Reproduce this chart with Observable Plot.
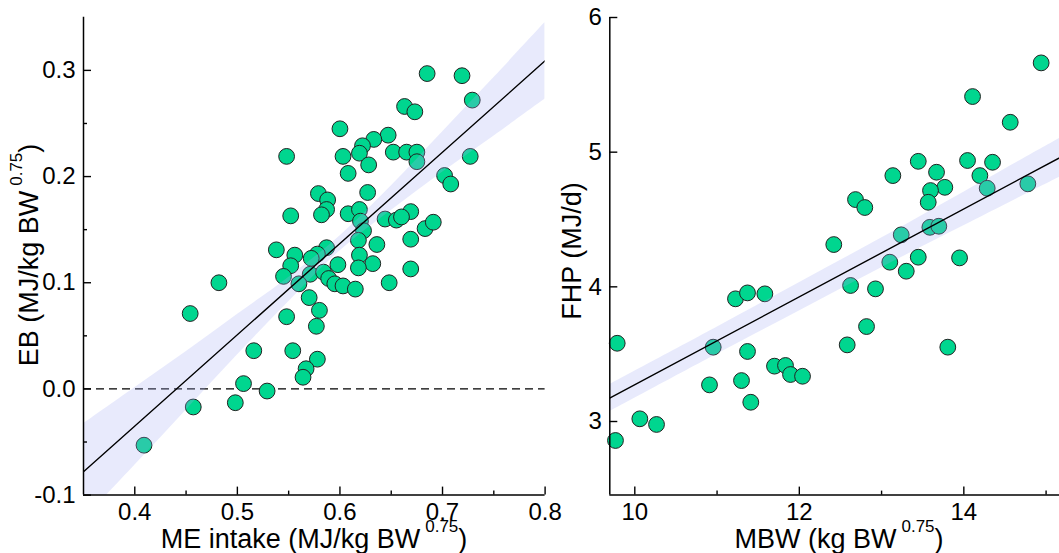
<!DOCTYPE html>
<html><head><meta charset="utf-8">
<script src="https://cdn.jsdelivr.net/npm/d3@7"></script>
<script src="https://cdn.jsdelivr.net/npm/@observablehq/plot@0.6"></script>
<style>
body{margin:0;background:#fff;}
#wrap{position:relative;width:1059px;height:553px;overflow:hidden;font-family:"Liberation Sans",Arial,sans-serif;}
#wrap svg{position:absolute;top:0;}
</style></head><body><div id="wrap"></div>
<script>
// ---- Left panel: ME intake vs EB ----
const meIntake = [0.685,0.719,0.729,0.663,0.673,0.600,0.647,0.633,0.622,0.619,0.548,0.603,0.652,0.665,0.675,0.675,0.628,0.727,0.608,0.702,0.708,0.627,0.579,0.588,0.587,0.582,0.552,0.608,0.619,0.620,0.623,0.618,0.644,0.655,0.669,0.683,0.691,0.669,0.636,0.538,0.587,0.556,0.578,0.572,0.619,0.632,0.552,0.598,0.618,0.669,0.545,0.571,0.584,0.589,0.560,0.595,0.603,0.615,0.648,0.482,0.570,0.580,0.454,0.548,0.577,0.516,0.554,0.578,0.567,0.564,0.506,0.529,0.498,0.457,0.409,0.660];
const eb = [0.297,0.295,0.272,0.266,0.261,0.245,0.239,0.235,0.229,0.222,0.219,0.219,0.223,0.223,0.223,0.214,0.211,0.219,0.203,0.201,0.193,0.185,0.184,0.178,0.169,0.164,0.163,0.165,0.169,0.158,0.149,0.140,0.160,0.159,0.167,0.151,0.157,0.141,0.136,0.131,0.133,0.126,0.127,0.123,0.126,0.118,0.116,0.117,0.114,0.113,0.106,0.108,0.110,0.104,0.099,0.099,0.097,0.094,0.100,0.100,0.086,0.074,0.071,0.068,0.059,0.036,0.036,0.028,0.019,0.011,0.005,-0.002,-0.013,-0.017,-0.053,0.162];
const fitLX = [0.35, 0.8];
const fitLY = [-0.078, 0.309];
const bandLX = [0.35,0.40,0.45,0.50,0.55,0.60,0.65,0.70,0.75,0.80];
const bandLLo = [-0.123,-0.072,-0.020,0.032,0.082,0.130,0.168,0.204,0.238,0.273];
const bandLHi = [-0.033,0.001,0.035,0.070,0.105,0.144,0.191,0.242,0.293,0.345];
const leftXDomain = [0.35, 0.8];
const leftYDomain = [-0.1, 0.35];
const leftXMajor = [0.4,0.5,0.6,0.7,0.8];
const leftXMinor = [0.45,0.55,0.65,0.75];
const leftYMajor = [-0.1,0.0,0.1,0.2,0.3];
const leftYMinor = [-0.05,0.05,0.15,0.25];

// ---- Right panel: MBW vs FHP ----
const mbw = [14.94,14.106,14.564,13.446,14.045,14.349,13.137,13.668,14.195,13.769,13.595,13.567,14.284,14.778,12.683,12.796,12.419,13.239,13.587,13.696,13.446,13.948,13.10,13.30,12.623,12.926,12.817,12.582,13.805,11.224,11.370,11.581,10.953,11.370,11.698,11.832,11.893,12.039,10.908,11.297,11.410,9.786,10.061,10.264,9.765];
const fhp = [5.663,5.413,5.222,4.932,4.938,4.925,4.826,4.851,4.826,4.739,4.715,4.628,4.732,4.765,4.648,4.589,4.314,4.386,4.442,4.450,4.220,4.215,4.183,4.116,4.010,3.985,3.705,3.569,3.552,3.911,3.955,3.948,3.552,3.520,3.411,3.416,3.349,3.336,3.272,3.304,3.143,3.581,3.020,2.978,2.859];
const fitRX = [9.7, 15.2];
const fitRY = [3.175, 4.970];
const bandRX = [9.7, 11, 12, 13, 14, 15.2];
const bandRLo = [3.075, 3.500, 3.821, 4.142, 4.453, 4.825];
const bandRHi = [3.275, 3.700, 4.031, 4.362, 4.703, 5.115];
const rightXDomain = [9.696, 15.163];
const rightYDomain = [2.4535, 6];
const rightXMajor = [10, 12, 14];
const rightXMinor = [11, 13, 15];
const rightYMajor = [3, 4, 5, 6];

const FONT = "'Liberation Sans', Arial, Helvetica, sans-serif";
const GREEN = "#00d68f";
const BAND = "#a3abf3";

function panel(cfg) {
  const innerW = cfg.width - cfg.ml - cfg.mr;
  const innerH = cfg.height - cfg.mt - cfg.mb;
  const pts = cfg.xs.map((x, i) => ({x, y: cfg.ys[i]}));
  const band = cfg.bx.map((x, i) => ({x, lo: cfg.blo[i], hi: cfg.bhi[i]}));
  const fit = cfg.fx.map((x, i) => ({x, y: cfg.fy[i]}));
  const marks = [];
  if (cfg.zero) marks.push(Plot.ruleY(cfg.zero, {stroke: "#000", strokeWidth: 1.4, strokeDasharray: "8,5"}));
  marks.push(
    Plot.dot(pts, {x: "x", y: "y", r: 7.9, fill: GREEN, fillOpacity: 1, stroke: "#222", strokeWidth: 1}),
    Plot.areaY(band, {x: "x", y1: "lo", y2: "hi", fill: BAND, fillOpacity: 0.25, curve: "catmull-rom", clip: true}),
    Plot.line(fit, {x: "x", y: "y", stroke: "#000", strokeWidth: 1.4, clip: true}),
    Plot.ruleX([cfg.xd[0]], {stroke: "#000", strokeWidth: 1.5}),
    Plot.ruleY([cfg.yd[0]], {stroke: "#000", strokeWidth: 1.5}),
    Plot.tickX(cfg.xMajor, {x: d => d, stroke: "#000", strokeWidth: 1.4, insetTop: innerH - 8}),
    Plot.tickX(cfg.xMinor, {x: d => d, stroke: "#000", strokeWidth: 1.4, insetTop: innerH - 4}),
    Plot.tickY(cfg.yMajor, {y: d => d, stroke: "#000", strokeWidth: 1.4, insetRight: innerW - 8}),
    Plot.axisX({ticks: cfg.xMajor, tickSize: 0, tickPadding: 8, tickFormat: cfg.xFmt, label: null, fontSize: 24}),
    Plot.axisY({ticks: cfg.yMajor, tickSize: 0, tickPadding: 8, tickFormat: cfg.yFmt, label: null, fontSize: 24})
  );
  if (cfg.yMinor) marks.push(Plot.tickY(cfg.yMinor, {y: d => d, stroke: "#000", strokeWidth: 1.4, insetRight: innerW - 4}));
  const svg = Plot.plot({
    width: cfg.width, height: cfg.height,
    marginLeft: cfg.ml, marginRight: cfg.mr, marginTop: cfg.mt, marginBottom: cfg.mb,
    x: {domain: cfg.xd}, y: {domain: cfg.yd},
    style: {fontFamily: FONT, fontSize: "24px", color: "#000", background: "transparent", overflow: "visible"},
    marks
  });
  svg.style.left = cfg.left + "px";
  const s = d3.select(svg);
  function title(x, y, rot, main, sup, tail) {
    const t = s.append("text")
      .attr("transform", `translate(${x},${y})` + (rot ? " rotate(-90)" : ""))
      .attr("text-anchor", "middle").attr("fill", "#000")
      .style("font-family", FONT).style("font-size", "27px");
    t.append("tspan").text(main);
    if (sup) {
      t.append("tspan").attr("dx", 5).attr("dy", -16).style("font-size", "17px").text(sup);
      t.append("tspan").attr("dy", 16).text(tail);
    }
  }
  cfg.titles(title);
  document.getElementById("wrap").appendChild(svg);
}

panel({
  left: 0, width: 570, height: 553, ml: 83, mr: 25.4, mt: 16.8, mb: 58.4,
  xs: meIntake, ys: eb, fx: fitLX, fy: fitLY, bx: bandLX, blo: bandLLo, bhi: bandLHi,
  xd: leftXDomain, yd: leftYDomain, zero: [0],
  xMajor: leftXMajor, xMinor: leftXMinor, yMajor: leftYMajor, yMinor: leftYMinor,
  xFmt: d => d.toFixed(1), yFmt: d => d.toFixed(1),
  titles: (title) => {
    title(314, 548, false, "ME intake (MJ/kg BW", "0.75", ")");
    title(38, 255, true, "EB (MJ/kg BW", "0.75", ")");
  }
});

panel({
  left: 560, width: 499, height: 553, ml: 49.3, mr: 0, mt: 17, mb: 58.4,
  xs: mbw, ys: fhp, fx: fitRX, fy: fitRY, bx: bandRX, blo: bandRLo, bhi: bandRHi,
  xd: rightXDomain, yd: rightYDomain, zero: null,
  xMajor: rightXMajor, xMinor: rightXMinor, yMajor: rightYMajor, yMinor: null,
  xFmt: d => String(d), yFmt: d => String(d),
  titles: (title) => {
    title(279, 548, false, "MBW (kg BW", "0.75", ")");
    title(21, 251, true, "FHP (MJ/d)", null, null);
  }
});
</script>
</body></html>
